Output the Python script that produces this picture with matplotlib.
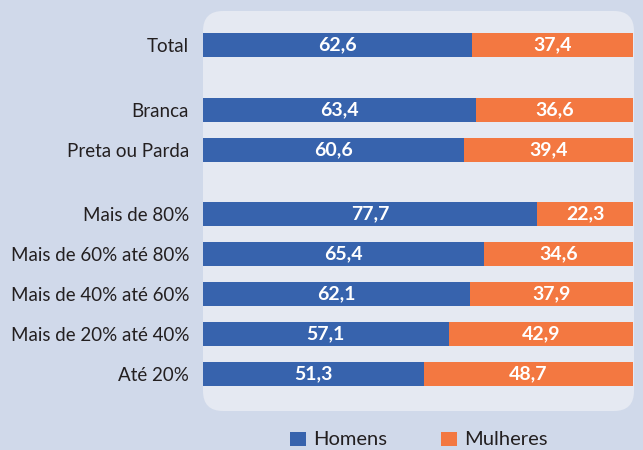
import matplotlib

matplotlib.use("Agg")
import matplotlib.pyplot as plt
from matplotlib.patches import FancyBboxPatch, Rectangle

categories = [
    "Total",
    "Branca",
    "Preta ou Parda",
    "Mais de 80%",
    "Mais de 60% até 80%",
    "Mais de 40% até 60%",
    "Mais de 20% até 40%",
    "Até 20%",
]
homens = [62.6, 63.4, 60.6, 77.7, 65.4, 62.1, 57.1, 51.3]
mulheres = [37.4, 36.6, 39.4, 22.3, 34.6, 37.9, 42.9, 48.7]
series_labels = ["Homens", "Mulheres"]

# row centres, with gaps between the groups
ypos = [0.85, 2.475, 3.475, 5.075, 6.075, 7.075, 8.075, 9.075]

BLUE = "#3763ad"
ORANGE = "#f37841"
BG = "#d0d9ea"
PANEL = "#e5e9f2"
DARK = "#231f20"

plt.rcParams["font.family"] = ["Lato", "DejaVu Sans"]

W, H = 643, 450
fig = plt.figure(figsize=(W / 100, H / 100), dpi=100, facecolor=BG)

# background layer in pixel units for the rounded panel and legend
bg = fig.add_axes([0, 0, 1, 1])
bg.set_xlim(0, W)
bg.set_ylim(H, 0)
bg.axis("off")
bg.add_patch(FancyBboxPatch((203, 11), 431, 400, boxstyle="round,pad=0,rounding_size=20",
                            facecolor=PANEL, edgecolor="none"))

left, top, width, height = 203, 11, 430, 400
ax = fig.add_axes([left / W, 1 - (top + height) / H, width / W, height / H])
ax.set_facecolor("none")
ax.barh(ypos, homens, height=0.6, color=BLUE)
ax.barh(ypos, mulheres, left=homens, height=0.6, color=ORANGE)
for y, h, m in zip(ypos, homens, mulheres):
    ax.text(h / 2, y, f"{h:.1f}".replace(".", ","), ha="center", va="center",
            color="white", fontsize=14, fontweight="bold")
    ax.text(h + m / 2, y, f"{m:.1f}".replace(".", ","), ha="center", va="center",
            color="white", fontsize=14, fontweight="bold")
ax.set_xlim(0, 100)
ax.set_ylim(10, 0)
ax.set_yticks(ypos)
ax.set_yticklabels(categories, fontsize=13.5, color=DARK)
ax.tick_params(axis="y", length=0, pad=10)
ax.set_xticks([])
for s in ax.spines.values():
    s.set_visible(False)

# legend
for x0, color, label in [(290, BLUE, series_labels[0]), (441, ORANGE, series_labels[1])]:
    bg.add_patch(Rectangle((x0, 432), 16, 14, facecolor=color, edgecolor="none"))
    bg.text(x0 + 23, 445, label, ha="left", va="baseline", fontsize=14.5, color=DARK)

fig.savefig("out.png", dpi=100, facecolor=BG)
